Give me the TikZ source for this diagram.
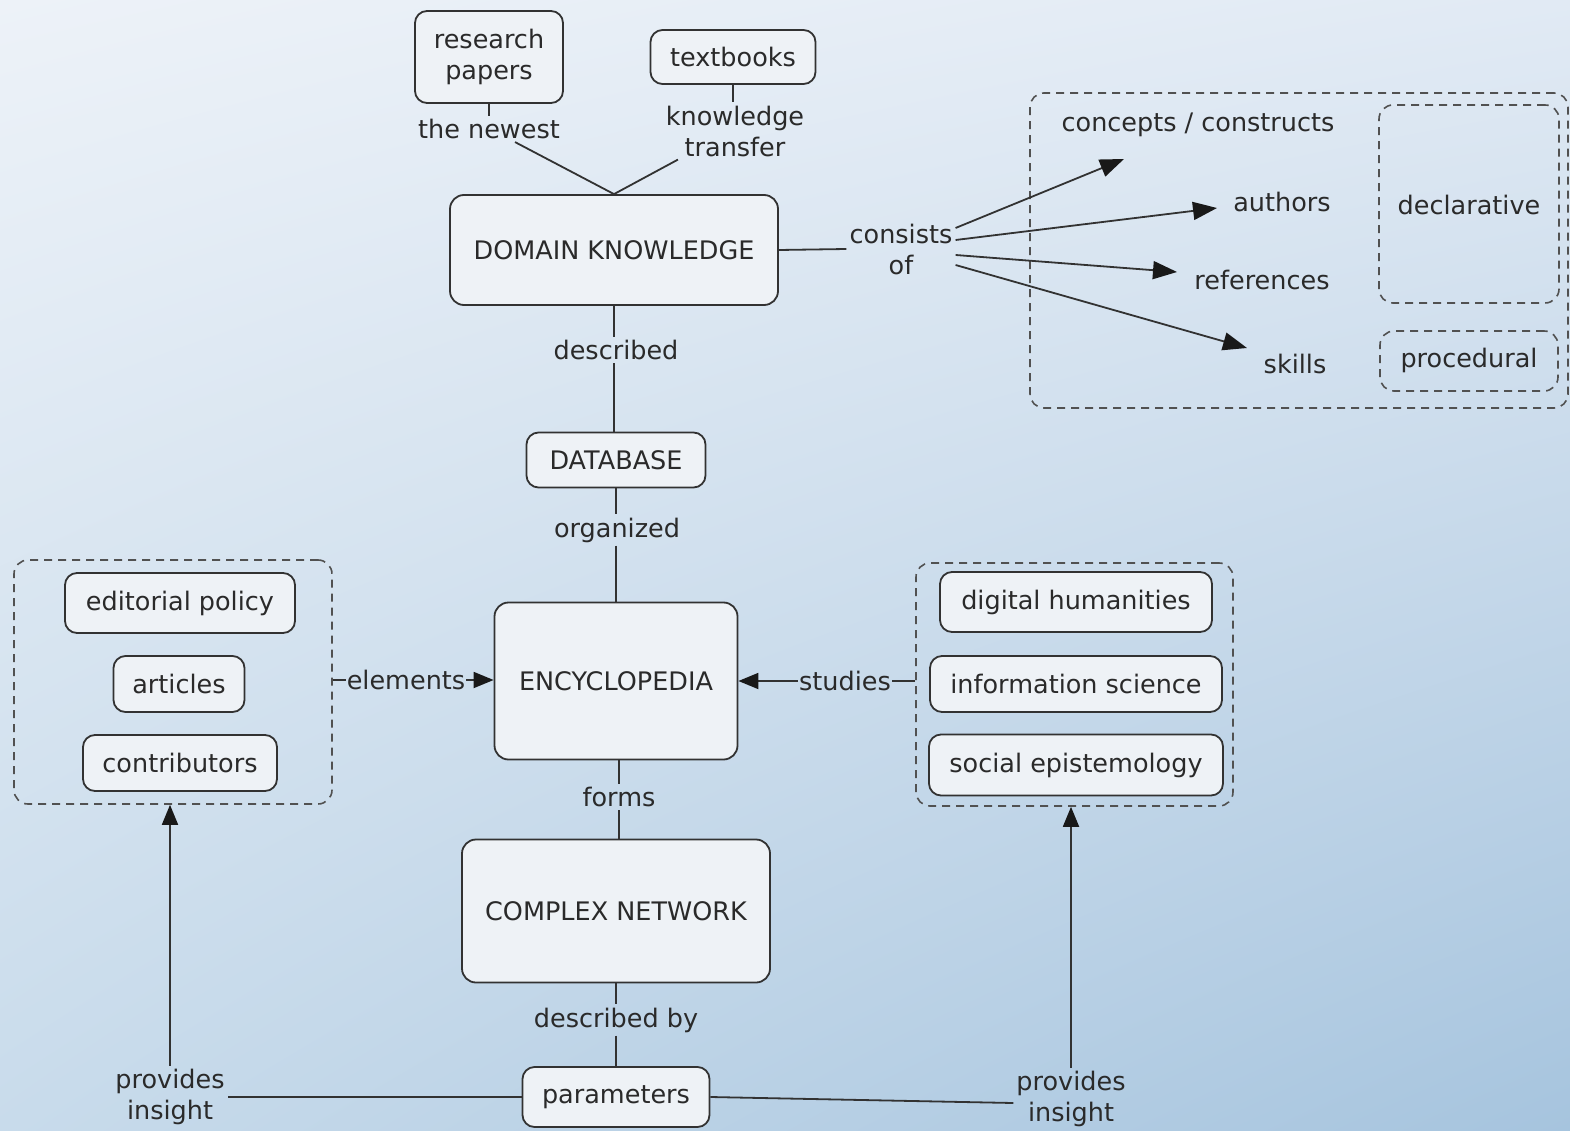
\documentclass[tikz,border=0pt]{standalone}
\usepackage{fontspec}
\setmainfont{DejaVu Sans}
\usetikzlibrary{arrows.meta,calc,shadings}
\definecolor{nodefill}{RGB}{238,242,246}
\definecolor{linec}{RGB}{50,50,50}
\definecolor{textc}{RGB}{42,42,42}
\definecolor{bgtl}{RGB}{237,242,248}
\definecolor{bgtr}{RGB}{225,234,244}
\definecolor{bgbl}{RGB}{200,219,235}
\definecolor{bgbr}{RGB}{166,196,222}
\newcommand\fsz{\fontsize{25.5}{31}\selectfont}
\tikzset{
  concept/.style={draw=linec, line width=1.8pt, rounded corners=12pt, fill=nodefill, text=textc, font=\fsz, align=center, inner sep=0pt},
  lbl/.style={text=textc, font=\fsz, align=center, inner sep=3pt},
  grp/.style={draw=linec!85, line width=1.6pt, dash pattern=on 8pt off 6pt, rounded corners=14pt, inner sep=0pt},
  conn/.style={draw=linec, line width=1.8pt},
  arr/.style={conn, -{Triangle[length=24pt,width=18pt,color=black!90]}},
  sarr/.style={conn, -{Triangle[length=20pt,width=16pt,color=black!90]}},
}
\begin{document}
\begin{tikzpicture}[x=1pt,y=-1pt]
\shade[upper left=bgtl, upper right=bgtr, lower left=bgbl, lower right=bgbr] (0,0) rectangle (1570,1131);
\useasboundingbox (0,0) rectangle (1570,1131);

% top sources
\node[concept, minimum width=148pt, minimum height=92pt] (rp) at (489,57) {research\\papers};
\node[concept, minimum width=165pt, minimum height=54pt] (tb) at (733,57) {textbooks};
\node[lbl] (newest) at (489,129) {the newest};
\node[lbl] (kt) at (735,131) {knowledge\\transfer};

% main chain
\node[concept, minimum width=328pt, minimum height=110pt, rounded corners=14pt] (dk) at (614,250) {DOMAIN KNOWLEDGE};
\node[lbl] (desc) at (616,350) {described};
\node[concept, minimum width=179pt, minimum height=55pt] (db) at (616,460) {DATABASE};
\node[lbl] (org) at (617,530) {organized};
\node[concept, minimum width=243pt, minimum height=157pt, rounded corners=14pt] (enc) at (616,681) {ENCYCLOPEDIA};
\node[lbl] (forms) at (619,797) {forms};
\node[concept, minimum width=308pt, minimum height=143pt, rounded corners=14pt] (cn) at (616,911) {COMPLEX NETWORK};
\node[lbl] (descby) at (616,1020) {described by};
\node[concept, minimum width=187pt, minimum height=60pt] (par) at (616,1097) {parameters};

% consists of
\node[lbl] (cons) at (901,249) {consists\\of};
\node[grp, minimum width=538pt, minimum height=315pt] (kgrp) at (1299,250.5) {};
\node[grp, minimum width=180pt, minimum height=198pt] (decl) at (1469,204) {};
\node[lbl] (decltxt) at (1469,205) {declarative};
\node[grp, minimum width=178pt, minimum height=60pt] (proc) at (1469,361) {};
\node[lbl] (proctxt) at (1469,360) {procedural};
\node[lbl] (concepts) at (1198,125) {concepts / constructs};
\node[lbl] (authors) at (1282,202) {authors};
\node[lbl] (refs) at (1262,280) {references};
\node[lbl] (skills) at (1295,364) {skills};
\coordinate (tconc) at (1124,159);
\coordinate (tauth) at (1217,208);
\coordinate (trefs) at (1177,272);
\coordinate (tskil) at (1247,348);

% left group
\node[grp, minimum width=318pt, minimum height=244pt] (lg) at (173,682) {};
\node[concept, minimum width=230pt, minimum height=60pt] (ep) at (180,603) {editorial policy};
\node[concept, minimum width=131pt, minimum height=56pt] (art) at (179,684) {articles};
\node[concept, minimum width=194pt, minimum height=56pt] (contr) at (180,763) {contributors};
\node[lbl, inner sep=1pt] (elem) at (406,680) {elements};

% right group
\node[grp, minimum width=317pt, minimum height=243pt] (rg) at (1074.5,684.5) {};
\node[concept, minimum width=272pt, minimum height=60pt] (dh) at (1076,602) {digital humanities};
\node[concept, minimum width=292pt, minimum height=56pt] (is) at (1076,684) {information science};
\node[concept, minimum width=294pt, minimum height=61pt] (se) at (1076,765) {social epistemology};
\node[lbl, inner sep=1pt] (stud) at (845,681) {studies};

% provides insight
\node[lbl] (pil) at (170,1097) {provides\\insight};
\node[lbl] (pir) at (1071,1099) {provides\\insight};

% connectors
\draw[conn] (rp.south) -- (newest.north -| rp.south);
\draw[conn] ([xshift=26pt]newest.south) -- (dk.north);
\draw[conn] (tb.south) -- (kt.north -| tb.south);
\draw[conn] ([xshift=-57pt]kt.south) -- (dk.north);
\draw[conn] (dk.south) -- (desc.north -| dk.south);
\draw[conn] (desc.south -| dk.south) -- (db.north -| dk.south);
\draw[conn] (db.south) -- (org.north -| db.south);
\draw[conn] (org.south -| db.south) -- (enc.north -| db.south);
\draw[conn] (enc.south -| forms.north) -- (forms.north);
\draw[conn] (forms.south) -- (cn.north -| forms.south);
\draw[conn] (cn.south) -- (descby.north -| cn.south);
\draw[conn] (descby.south -| cn.south) -- (par.north);
\draw[conn] (dk.east) -- (cons.west);
\draw[arr] ([yshift=21pt]cons.east) -- (tconc);
\draw[arr] ([yshift=9pt]cons.east) -- (tauth);
\draw[arr] ([yshift=-6pt]cons.east) -- (trefs);
\draw[arr] ([yshift=-16pt]cons.east) -- (tskil);
\draw[conn] (lg.east |- elem.west) -- (elem.west);
\draw[sarr] (elem.east) -- (enc.west |- elem.east);
\draw[conn] (rg.west |- stud.east) -- (stud.east);
\draw[sarr] (stud.west) -- (enc.east |- stud.west);
\draw[conn] (par.west) -- (pil.east);
\draw[sarr] (pil.north) -- (pil.north |- lg.south);
\draw[conn] (par.east) -- ([yshift=-4pt]pir.west);
\draw[sarr] (pir.north) -- (pir.north |- rg.south);
\end{tikzpicture}
\end{document}
